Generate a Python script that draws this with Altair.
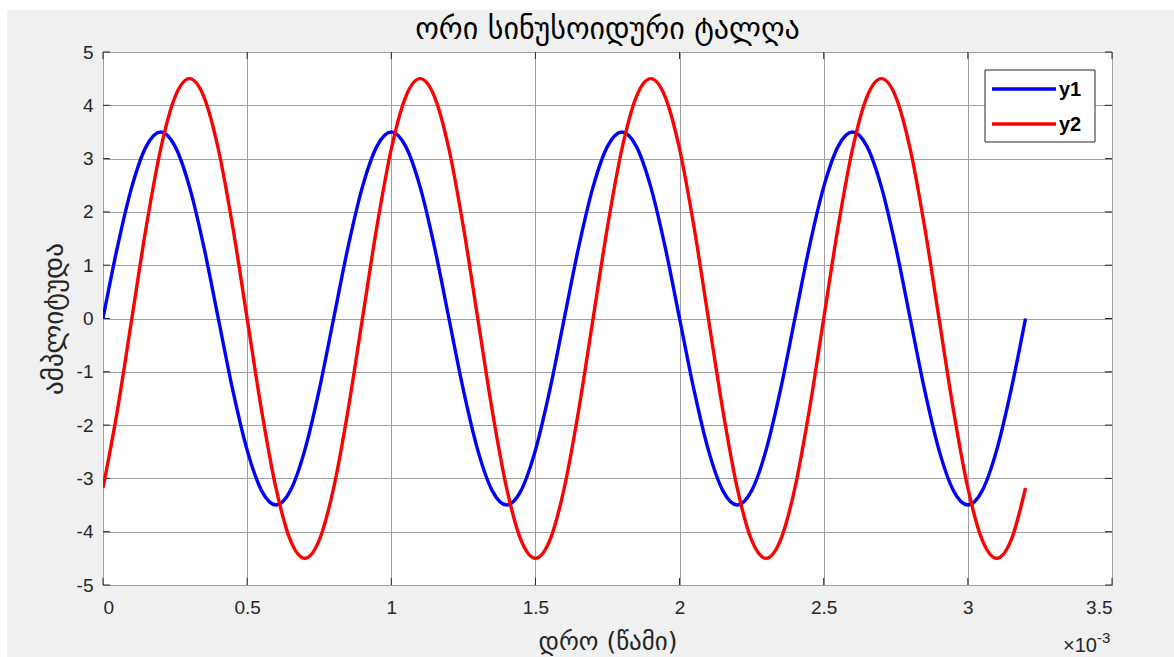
import altair as alt
import pandas as pd

# time in units of 1e-3 s
t_ms = [0.0, 0.05, 0.1, 0.15, 0.2, 0.25, 0.3, 0.35, 0.4, 0.45, 0.5, 0.55, 0.6, 0.65, 0.7, 0.75,
        0.8, 0.85, 0.9, 0.95, 1.0, 1.05, 1.1, 1.15, 1.2, 1.25, 1.3, 1.35, 1.4, 1.45, 1.5, 1.55,
        1.6, 1.65, 1.7, 1.75, 1.8, 1.85, 1.9, 1.95, 2.0, 2.05, 2.1, 2.15, 2.2, 2.25, 2.3, 2.35,
        2.4, 2.45, 2.5, 2.55, 2.6, 2.65, 2.7, 2.75, 2.8, 2.85, 2.9, 2.95, 3.0, 3.05, 3.1, 3.15,
        3.2]

y1 = [0, 1.34, 2.47, 3.23, 3.5, 3.23, 2.47, 1.34, 0, -1.34, -2.47, -3.23, -3.5, -3.23, -2.47, -1.34,
      0, 1.34, 2.47, 3.23, 3.5, 3.23, 2.47, 1.34, 0, -1.34, -2.47, -3.23, -3.5, -3.23, -2.47, -1.34,
      0, 1.34, 2.47, 3.23, 3.5, 3.23, 2.47, 1.34, 0, -1.34, -2.47, -3.23, -3.5, -3.23, -2.47, -1.34,
      0, 1.34, 2.47, 3.23, 3.5, 3.23, 2.47, 1.34, 0, -1.34, -2.47, -3.23, -3.5, -3.23, -2.47, -1.34,
      0]

y2 = [-3.18, -1.72, 0, 1.72, 3.18, 4.16, 4.5, 4.16, 3.18, 1.72, 0, -1.72, -3.18, -4.16, -4.5, -4.16,
      -3.18, -1.72, 0, 1.72, 3.18, 4.16, 4.5, 4.16, 3.18, 1.72, 0, -1.72, -3.18, -4.16, -4.5, -4.16,
      -3.18, -1.72, 0, 1.72, 3.18, 4.16, 4.5, 4.16, 3.18, 1.72, 0, -1.72, -3.18, -4.16, -4.5, -4.16,
      -3.18, -1.72, 0, 1.72, 3.18, 4.16, 4.5, 4.16, 3.18, 1.72, 0, -1.72, -3.18, -4.16, -4.5, -4.16,
      -3.18]

x_ticks = [0, 0.5, 1, 1.5, 2, 2.5, 3, 3.5]
y_ticks = [-5, -4, -3, -2, -1, 0, 1, 2, 3, 4, 5]

series_names = ["y1", "y2"]
series_colors = ["#0000ff", "#ff0000"]

title_text = "ორი სინუსოიდური ტალღა"
x_title = "დრო (წამი)"
y_title = "ამპლიტუდა"

W, H = 1009, 533
GEO_FONT = "DejaVu Sans"
NUM_FONT = "Liberation Sans"

df = pd.DataFrame(
    {"t": t_ms * 2, "v": y1 + y2, "s": ["y1"] * len(t_ms) + ["y2"] * len(t_ms)}
)
df_xt = pd.DataFrame({"t": x_ticks})
df_yt = pd.DataFrame({"v": y_ticks})
df_one = pd.DataFrame({"a": [0]})

xscale = alt.Scale(domain=[0, 3.5], nice=False, zero=False)
yscale = alt.Scale(domain=[-5, 5], nice=False, zero=False)

lines = alt.Chart(df).mark_line(strokeWidth=3.4, interpolate="monotone", clip=True).encode(
    x=alt.X("t:Q", scale=xscale,
            axis=alt.Axis(values=x_ticks, labelExpr="'' + datum.value",
                          title=x_title, grid=True, gridColor="#a0a0a0",
                          ticks=False, domain=False, labelFontSize=19, labelFont=NUM_FONT,
                          labelColor="#262626", labelPadding=13,
                          titleFont=GEO_FONT, titleFontSize=25, titleFontWeight="normal",
                          titleColor="#262626", titlePadding=12)),
    y=alt.Y("v:Q", scale=yscale,
            axis=alt.Axis(values=y_ticks, labelExpr="'' + datum.value",
                          title=y_title, grid=True, gridColor="#a0a0a0",
                          ticks=False, domain=False, labelFontSize=19, labelFont=NUM_FONT,
                          labelColor="#262626", labelPadding=10,
                          titleFont=GEO_FONT, titleFontSize=27, titleFontWeight="normal",
                          titleColor="#262626", titlePadding=8)),
    color=alt.Color("s:N", scale=alt.Scale(domain=series_names, range=series_colors),
                    legend=None),
)

tick_style = dict(color="#262626", strokeWidth=1)
xt_bottom = alt.Chart(df_xt).mark_rule(**tick_style).encode(
    x=alt.X("t:Q", scale=xscale), y=alt.value(H), y2=alt.value(H - 7))
xt_top = alt.Chart(df_xt).mark_rule(**tick_style).encode(
    x=alt.X("t:Q", scale=xscale), y=alt.value(0), y2=alt.value(7))
yt_left = alt.Chart(df_yt).mark_rule(**tick_style).encode(
    y=alt.Y("v:Q", scale=yscale), x=alt.value(0), x2=alt.value(7))
yt_right = alt.Chart(df_yt).mark_rule(**tick_style).encode(
    y=alt.Y("v:Q", scale=yscale), x=alt.value(W), x2=alt.value(W - 7))

# white outer strips (figure edge)
strip_top = alt.Chart(df_one).mark_rect(color="white").encode(
    x=alt.value(-103), x2=alt.value(1071), y=alt.value(-52), y2=alt.value(-42))
strip_left = alt.Chart(df_one).mark_rect(color="white").encode(
    x=alt.value(-103), x2=alt.value(-96), y=alt.value(-52), y2=alt.value(605))

# title
title = alt.Chart(df_one).mark_text(
    text=title_text, font=GEO_FONT, fontSize=30, color="#000000",
    align="center", baseline="middle", fontWeight="normal"
).encode(x=alt.value(W / 2), y=alt.value(-22))

# exponent label
exp_base = alt.Chart(df_one).mark_text(
    text="×10", font=NUM_FONT, fontSize=20, color="#262626", align="right",
    baseline="middle", fontWeight="normal"
).encode(x=alt.value(994), y=alt.value(594))
exp_sup = alt.Chart(df_one).mark_text(
    text="-3", font=NUM_FONT, fontSize=15, color="#262626", align="left",
    baseline="middle", fontWeight="normal"
).encode(x=alt.value(994), y=alt.value(586))

# legend box (inside plot, upper right)
leg_box = alt.Chart(df_one).mark_rect(fill="white", stroke="#262626", strokeWidth=1).encode(
    x=alt.value(882), x2=alt.value(992), y=alt.value(18), y2=alt.value(90))
row_y = [37, 72]
leg_layers = []
for name, col, ry in zip(series_names, series_colors, row_y):
    leg_layers.append(
        alt.Chart(df_one).mark_rule(strokeWidth=3.4, color=col).encode(
            x=alt.value(889), x2=alt.value(953), y=alt.value(ry))
    )
    leg_layers.append(
        alt.Chart(df_one).mark_text(
            text=name, font=NUM_FONT, fontSize=20, fontWeight="bold", color="#000000",
            align="left", baseline="middle", dy=1
        ).encode(x=alt.value(956), y=alt.value(ry))
    )

chart = alt.layer(
    strip_top, strip_left, xt_bottom, xt_top, yt_left, yt_right, lines,
    leg_box, *leg_layers, title, exp_base, exp_sup
).properties(
    width=W, height=H,
    background="#f0f0f0",
    padding={"left": 103, "top": 52, "right": 62, "bottom": 72},
    autosize=alt.AutoSizeParams(type="none"),
).configure_view(fill="white", stroke="#262626", strokeWidth=1)

chart.save("out.html", embed_options={"renderer": "svg", "actions": False})
